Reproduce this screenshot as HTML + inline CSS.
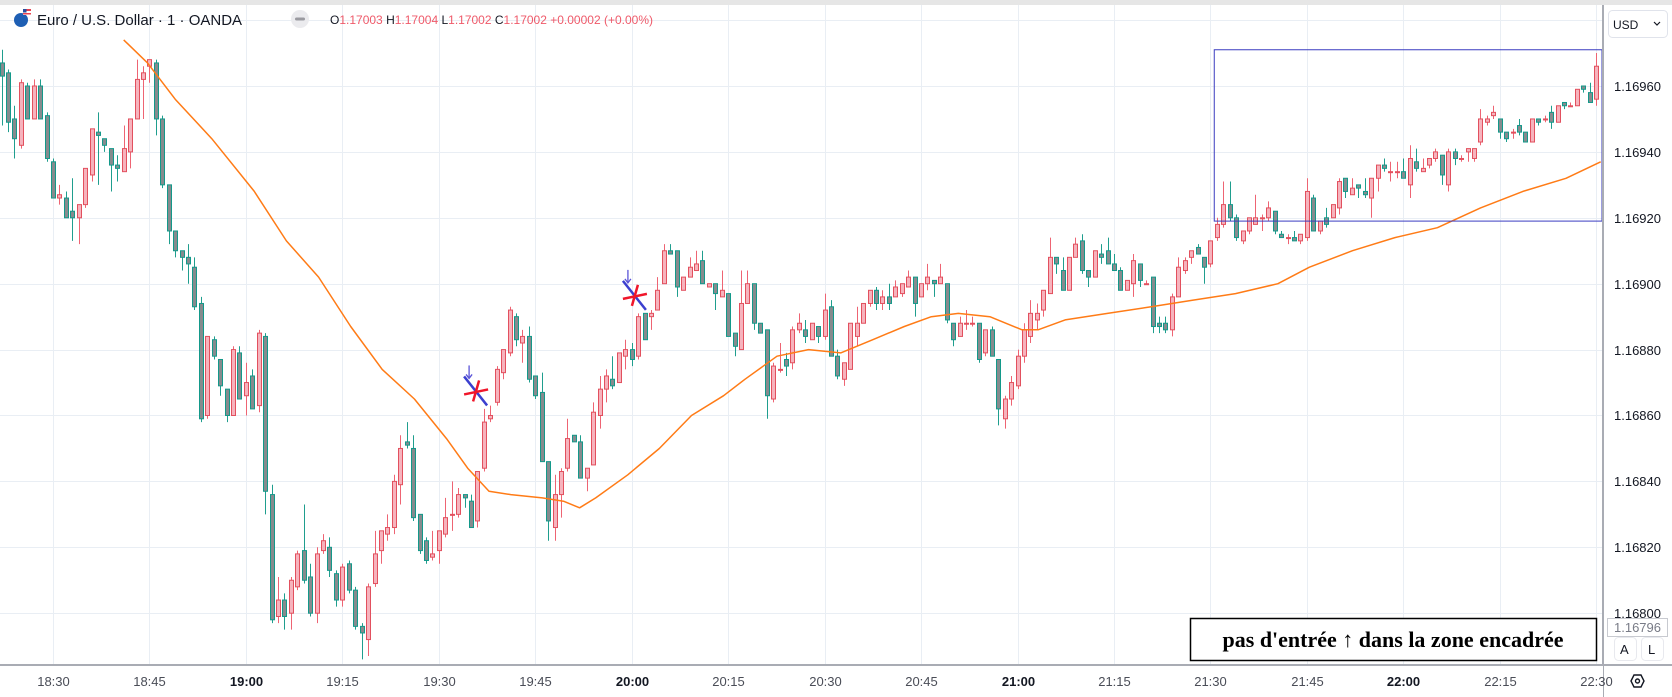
<!DOCTYPE html>
<html><head><meta charset="utf-8"><style>
html,body{margin:0;padding:0;background:#fff;width:1672px;height:697px;overflow:hidden}
svg{display:block;font-family:"Liberation Sans",sans-serif}
</style></head><body>
<svg id="chart" width="1672" height="697" viewBox="0 0 1672 697" xmlns="http://www.w3.org/2000/svg">
<defs><clipPath id="plotClip"><rect x="0" y="6" width="1602" height="658"/></clipPath></defs>
<rect x="0" y="0" width="1672" height="697" fill="#fff"/>
<rect x="0" y="0" width="1672" height="5" fill="#e6e6e6"/>
<g id="grid"></g>
<g id="plot" clip-path="url(#plotClip)"></g>
<g id="annot"></g>
<g>
  <g>
    <circle cx="21" cy="20" r="7" fill="#1e5fb4"/>
    <rect x="23" y="9" width="8" height="6" fill="#fff"/>
    <rect x="23" y="9" width="8" height="2" fill="#e8424f"/>
    <rect x="23" y="13" width="8" height="1.5" fill="#e8424f"/>
    <rect x="23" y="9" width="3.5" height="3.5" fill="#2a4fa0"/>
  </g>
  <text x="37" y="25" font-size="15" fill="#131722">Euro / U.S. Dollar · 1 · OANDA</text>
  <g>
    <circle cx="300" cy="19" r="9" fill="#ebebee"/>
    <rect x="295" y="17.5" width="10" height="3" rx="1.5" fill="#9a9aa0"/>
  </g>
  <text x="330" y="24" font-size="12" fill="#131722">O<tspan fill="#ef5a6a">1.17003</tspan> H<tspan fill="#ef5a6a">1.17004</tspan> L<tspan fill="#ef5a6a">1.17002</tspan> C<tspan fill="#ef5a6a">1.17002 +0.00002 (+0.00%)</tspan></text>
</g>
<g>
  <rect x="1604" y="5" width="68" height="660" fill="#fff"/>
  <line x1="1603" y1="5" x2="1603" y2="697" stroke="#a9acb4" stroke-width="2"/>
  <g id="pticks"></g>
  <g>
    <rect x="1608.5" y="10.5" width="59" height="27" rx="4" fill="#fff" stroke="#e0e3eb"/>
    <text x="1613" y="29" font-size="12" fill="#131722">USD</text>
    <path d="M1654 22 l3 3 l3 -3" fill="none" stroke="#131722" stroke-width="1.2"/>
  </g>
  <g>
    <rect x="1607.5" y="618.5" width="60" height="18" fill="#fff" stroke="#c8cad0"/>
    <text x="1614" y="632" font-size="13" fill="#787b86">1.16796</text>
  </g>
  <g>
    <rect x="1614.5" y="637.5" width="22" height="23" rx="4" fill="#fff" stroke="#e8e9ee"/>
    <text x="1620" y="654" font-size="13" fill="#131722">A</text>
  </g>
  <g>
    <rect x="1641.5" y="637.5" width="22" height="23" rx="4" fill="#fff" stroke="#e8e9ee"/>
    <text x="1648" y="654" font-size="13" fill="#131722">L</text>
  </g>
</g>
<g>
  <rect x="0" y="666" width="1603" height="31" fill="#fff"/>
  <line x1="0" y1="665" x2="1672" y2="665" stroke="#a9acb4" stroke-width="2"/>
  <g id="tticks"></g>
  <g>
    <path d="M1631 681 l3 -6 h7 l3 6 l-3 6 h-7 z" fill="none" stroke="#131722" stroke-width="1.4"/>
    <circle cx="1637.5" cy="681" r="2" fill="none" stroke="#131722" stroke-width="1.4"/>
  </g>
</g>
<g>
  <rect x="1190.5" y="618.5" width="406" height="42" fill="#fff" stroke="#000" stroke-width="1.5"/>
  <text x="1393" y="647" text-anchor="middle" font-family="'Liberation Serif',serif" font-weight="bold" font-size="22" fill="#000">pas d'entrée ↑ dans la zone encadrée</text>
</g>
</svg>
<script>
// prices in 1e-5 units above PRICE_BASE
const PRICE_BASE = 1.16;
const UNIT = 1e-5;
const opens = [967,964,950,942,960,950,960,951,937,926, 926,922,920,924,933,946,944,941,936,934, 940,950,962,966,967,950,930,916,910,908, 905,894,860,883,877,868,860,879,866,872, 863,884,836,799,804,800,808,819,811,800, 819,820,812,804,815,807,796,792,809,819, 824,826,839,852,850,830,822,817,819,824, 830,830,836,834,828,844,859,864,873,879, 890,882,884,872,867,846,826,836,844,854, 852,841,845,860,868,871,870,878,880,878, 891,890,892,900,910,910,898,902,904,907, 899,900,896,897,885,880,894,900,888,886, 865,874,877,876,886,886,883,887,884,893, 878,871,874,884,888,894,898,894,896,896, 897,899,902,896,900,901,900,900,888,884, 888,888,888,879,886,877,859,865,869,878, 884,889,892,897,908,904,898,908,913,904, 902,909,910,906,904,898,900,906,900,902, 888,888,886,896,904,908,911,908,906,914, 918,924,920,913,916,918,920,920,922,915, 914,914,913,914,926,916,920,920,923,932, 927,930,928,926,932,936,934,934,934,930, 937,934,936,938,939,930,940,938,940,938, 943,949,951,950,946,946,948,946,943,950, 950,952,949,955,954,954,960,958,956];
const highs = [971,965,954,962,961,962,962,952,938,930, 928,932,924,935,947,952,944,941,939,948, 950,968,966,968,968,951,930,916,910,912, 908,896,884,884,877,868,881,881,876,874, 886,885,839,811,806,811,819,833,815,820, 824,823,813,815,816,808,797,809,825,825, 830,842,854,858,854,830,823,825,825,835, 840,838,836,836,843,862,863,875,880,893, 891,886,887,872,873,846,842,844,859,854, 854,844,864,872,874,878,879,883,882,891, 891,892,902,912,912,910,902,908,910,910, 900,900,904,897,885,904,904,900,888,886, 876,882,879,887,891,889,888,887,897,895, 880,876,888,893,894,898,899,898,900,901, 900,904,902,900,906,901,906,900,888,890, 892,890,888,886,887,877,866,872,880,888, 895,894,898,914,908,908,908,914,915,904, 910,912,914,909,905,901,909,906,901,902, 890,890,897,908,908,910,912,908,913,920, 931,931,921,916,920,927,921,925,922,916, 915,916,915,932,927,919,923,924,932,932, 932,930,932,932,936,938,937,937,938,942, 941,938,938,941,939,941,941,939,941,941, 953,951,954,950,946,947,950,946,950,950, 951,954,954,955,955,959,960,961,970];
const lows = [948,946,938,941,950,950,950,937,926,924, 920,913,912,923,931,930,940,928,931,934, 935,950,950,961,945,929,912,908,904,900, 892,858,859,877,866,858,860,865,860,862, 861,830,797,797,795,795,807,809,799,797, 818,811,802,802,806,795,786,787,808,815, 822,824,833,850,828,818,815,816,815,823, 825,829,832,826,826,843,858,863,871,878, 881,876,870,865,846,822,822,829,843,852, 841,837,845,856,864,868,870,874,875,877, 883,886,892,900,909,896,898,902,904,900, 899,892,896,884,878,880,894,886,885,859, 864,873,872,874,885,882,883,882,883,878, 871,869,874,881,888,893,892,892,892,896, 896,899,890,896,898,896,900,888,881,884, 886,887,876,878,878,857,856,863,868,876, 882,886,890,897,903,898,898,908,903,899, 902,906,906,904,898,898,896,899,900,885, 885,885,884,896,903,906,909,900,905,913, 917,919,913,912,915,918,916,919,915,914, 912,913,912,913,916,915,917,920,921,926, 927,926,926,920,928,934,931,932,932,926, 934,934,935,937,930,928,936,937,937,937, 942,948,950,944,943,944,945,943,943,948, 949,947,949,953,954,954,958,955,954];
const closes = [963,949,944,961,950,960,950,938,926,927, 920,920,924,935,947,945,942,936,935,941, 950,962,964,968,950,930,916,910,908,906, 893,859,884,878,869,860,880,865,870,862, 885,837,798,804,799,810,818,810,800,818, 822,813,804,814,807,796,794,808,818,825, 826,840,850,851,829,819,816,818,825,829, 830,836,835,826,843,858,860,874,880,892, 883,884,871,866,846,828,836,843,853,852, 841,844,861,868,872,869,879,880,877,890, 883,891,898,910,909,899,902,905,906,900, 900,897,898,884,881,894,900,888,885,866, 875,874,875,886,888,884,888,884,892,878, 872,876,888,888,894,898,894,896,894,899, 900,902,894,900,902,900,902,889,883,888, 888,888,877,886,878,862,865,870,878,886, 891,891,898,908,906,898,908,912,904,902, 910,908,906,904,898,901,907,901,900,887, 887,886,896,905,907,910,909,905,913,918, 924,920,914,916,920,920,920,923,916,914, 914,913,915,928,916,919,918,924,931,928, 929,929,927,932,936,935,934,934,932,938, 935,935,938,940,933,940,938,938,941,941, 950,950,952,946,944,946,946,943,950,949, 950,949,954,954,954,959,959,955,966];
// moving average samples: candle index -> value (1e-5 units above base)
const maIndex = [19,22.7,27,32.7,39.3,44.3,49.3,54.3,59.2,64.2,69.2,72.5,75.8,79.2,84.1,87.4,89.9,92.4,97.4,102.3,107.3,112.3,115.6,120.6,125.5,130.5,135.5,140.4,144.6,148.8,153.7,158.7,161.2,165.4,172,178.8,185.2,191.9,198.5,203.4,210.1,216.7,223.3,230,236.6,243.3,248.7];
const maValues = [974,967,956,944,928,913,902,887,874,865,853,844,837,836,835,834,832,835,842,850,860,866,871,878,880,879,883,887,890,891,890,886,886,889,891,893,895,897,900,905,910,914,917,923,928,932,937];
const priceTicks = [1.1698,1.1696,1.1694,1.1692,1.1690,1.1688,1.1686,1.1684,1.1682,1.1680];
const timeLabels = ['18:30','18:45','19:00','19:15','19:30','19:45','20:00','20:15','20:30','20:45','21:00','21:15','21:30','21:45','22:00','22:15','22:30'];
const zoneBox = {startIndex:188.6, top:971, bottom:919};
const signalIndex = [73.8, 98.5];
const signalPrice = [867, 896];

const NS='http://www.w3.org/2000/svg';
function yOf(p){return 86+(1.1696-p)*329500;}
function xOf(m){return 53+(m-8)*6.43;}
function pr(v){return PRICE_BASE+v*UNIT;}
function mk(tag,attrs,parent){const e=document.createElementNS(NS,tag);for(const k in attrs)e.setAttribute(k,attrs[k]);parent.appendChild(e);return e;}

const grid=document.getElementById('grid');
const plot=document.getElementById('plot');
const annot=document.getElementById('annot');
const pt=document.getElementById('pticks');
const tt=document.getElementById('tticks');

priceTicks.forEach(function(p){
  const y=Math.round(yOf(p))+0.5;
  const g=mk('line',{x1:0,x2:1602,y1:y,y2:y,stroke:'#e9eef4','stroke-width':1},grid);
  
  
  if(y>40){
    const t=mk('text',{x:1614,y:y+4.5,'font-size':13,fill:'#131722'},pt);
    t.textContent=p.toFixed(5);
    
    
  }
});
timeLabels.forEach(function(lbl,i){
  const x=Math.round(xOf(8+15*i))+0.5;
  const g=mk('line',{x1:x,x2:x,y1:5,y2:664,stroke:'#e9eef4','stroke-width':1},grid);
  
  
  const bold=lbl.endsWith(':00');
  const t=mk('text',{x:x,y:686,'font-size':13,'text-anchor':'middle',fill:bold?'#131722':'#4a4d57','font-weight':bold?'bold':'normal'},tt);
  t.textContent=lbl;
  
  
});

const n=Math.min(opens.length,highs.length,lows.length,closes.length);
for(let i=0;i<n;i++){
  const x=Math.round(xOf(i))+0.5;
  const o=pr(opens[i]),h=pr(highs[i]),l=pr(lows[i]),c=pr(closes[i]);
  const bull=c>=o;
  const g=mk('g',{},plot);
  
  
  mk('line',{x1:x,x2:x,y1:yOf(h),y2:yOf(l),stroke:bull?'#ee6473':'#1f9e8e','stroke-width':1},g);
  const yt=yOf(Math.max(o,c)),yb=yOf(Math.min(o,c));
  mk('rect',{x:x-2,y:yt,width:4,height:Math.max(1,yb-yt),fill:bull?'#f6b3bd':'#868b8e',stroke:bull?'#e2505e':'#13998a','stroke-width':1},g);
}

let d='';
for(let i=0;i<Math.min(maIndex.length,maValues.length);i++){
  d+=(i?'L':'M')+xOf(maIndex[i]).toFixed(1)+' '+yOf(pr(maValues[i])).toFixed(1);
}
const ma=mk('path',{d:d,fill:'none',stroke:'#ff7b16','stroke-width':1.5,'stroke-linejoin':'round'},plot);



const bx=xOf(zoneBox.startIndex),byT=yOf(pr(zoneBox.top)),byB=yOf(pr(zoneBox.bottom));
const box=mk('rect',{x:bx,y:byT,width:1602-bx,height:byB-byT,fill:'none',stroke:'#3a3cc0','stroke-width':1},annot);



for(let i=0;i<signalIndex.length;i++){
  const cx=xOf(signalIndex[i]),cy=yOf(pr(signalPrice[i]));
  const g=mk('g',{},annot);
  
  
  mk('line',{x1:cx-7,y1:cy-27,x2:cx-7,y2:cy-15,stroke:'#5a54d8','stroke-width':1.3},g);
  mk('path',{d:'M'+(cx-10)+' '+(cy-18)+' L'+(cx-7)+' '+(cy-14)+' L'+(cx-4)+' '+(cy-18),fill:'none',stroke:'#5a54d8','stroke-width':1.3},g);
  mk('line',{x1:cx-12,y1:cy-16,x2:cx+11,y2:cy+13,stroke:'#3b3fcf','stroke-width':2.5},g);
  mk('line',{x1:cx-12,y1:cy+2,x2:cx+12,y2:cy-3,stroke:'#f0162a','stroke-width':2.5},g);
  mk('line',{x1:cx+3,y1:cy-12,x2:cx-3,y2:cy+9,stroke:'#f0162a','stroke-width':2.5},g);
}
</script>
</body></html>
